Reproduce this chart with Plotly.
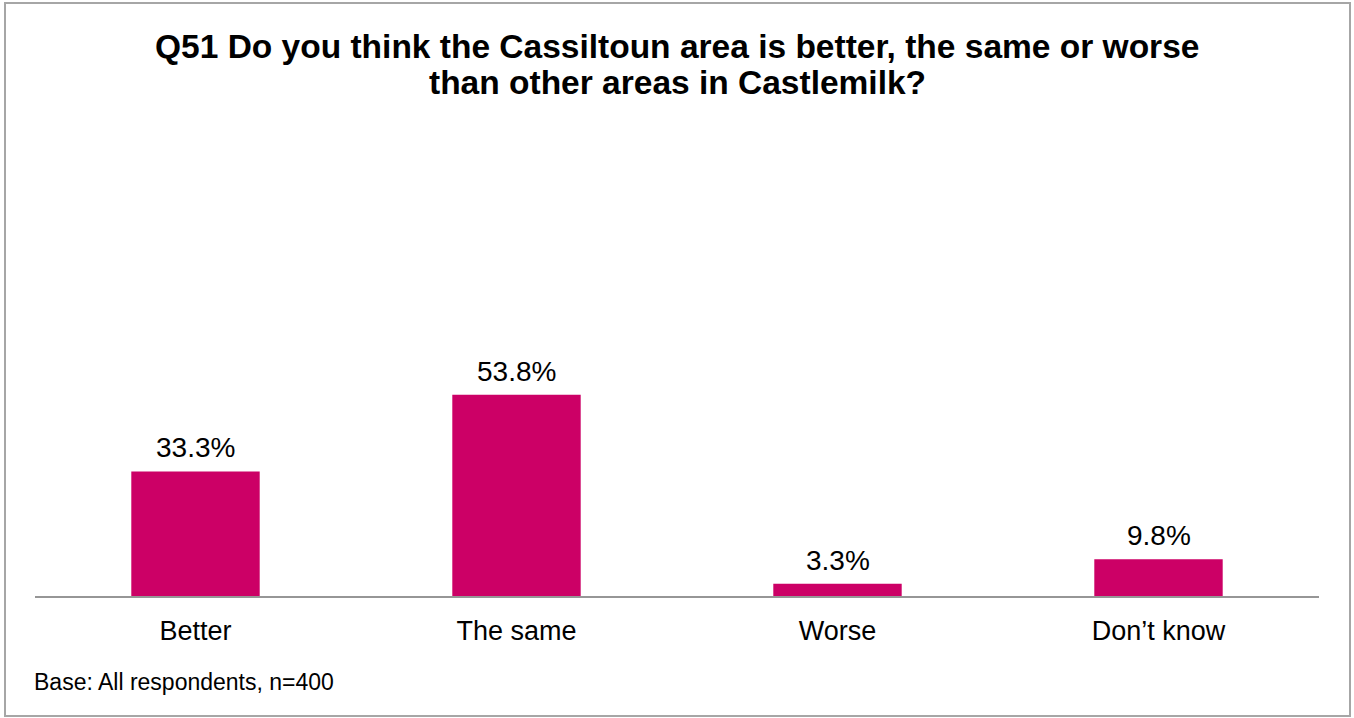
import plotly.graph_objects as go

categories = ["Better", "The same", "Worse", "Don\u2019t know"]
values = [33.3, 53.8, 3.3, 9.8]
value_labels = ["33.3%", "53.8%", "3.3%", "9.8%"]
title_lines = [
    "Q51 Do you think the Cassiltoun area is better, the same or worse",
    "than other areas in Castlemilk?",
]

W, H = 1354, 718
left, right, top, bottom = 35, 35, 150, 122
plot_h = H - top - bottom
plot_w = W - left - right
px_per_unit = 3.74
font_family = "Arial, 'Liberation Sans', sans-serif"


def px_x(x):
    return (x - left) / plot_w


def px_y(y):
    return (H - bottom - y) / plot_h


fig = go.Figure(
    go.Bar(
        x=categories,
        y=values,
        marker=dict(color="#CC0066", line=dict(width=0)),
        width=0.4,
    )
)

# value labels above each bar
for cat, val, lab in zip(categories, values, value_labels):
    fig.add_annotation(
        x=cat, y=val, xref="x", yref="y", text=lab,
        xanchor="center", yanchor="bottom", yshift=6,
        showarrow=False, font=dict(size=28, color="#000000", family=font_family),
    )

# two-line bold title
for line, cy in zip(title_lines, [46, 83]):
    fig.add_annotation(
        text="<b>" + line + "</b>", xref="paper", yref="paper",
        x=0.5, y=px_y(cy), xanchor="center", yanchor="middle",
        showarrow=False, font=dict(size=33.5, color="#000000", family=font_family),
    )

# outer frame of the chart
fig.add_shape(
    type="rect", xref="paper", yref="paper",
    x0=px_x(5), x1=px_x(1350), y0=px_y(716), y1=px_y(3),
    line=dict(color="#A6A6A6", width=2), fillcolor="rgba(0,0,0,0)",
)

fig.add_annotation(
    text="Base: All respondents, n=400", xref="paper", yref="paper",
    x=px_x(32), y=px_y(682), xanchor="left", yanchor="middle",
    showarrow=False, font=dict(size=23, color="#000000", family=font_family),
)

fig.update_layout(
    width=W, height=H,
    margin=dict(l=left, r=right, t=top, b=bottom),
    paper_bgcolor="white", plot_bgcolor="white",
    showlegend=False,
    xaxis=dict(
        showline=True, linecolor="#969696", linewidth=2,
        ticks="", showgrid=False, zeroline=False,
        ticklabelstandoff=10,
        tickfont=dict(size=27, color="#000000", family=font_family),
    ),
    yaxis=dict(
        range=[0, plot_h / px_per_unit],
        visible=False, showgrid=False, zeroline=False,
    ),
    font=dict(family=font_family),
)

fig.write_html("out.html")
